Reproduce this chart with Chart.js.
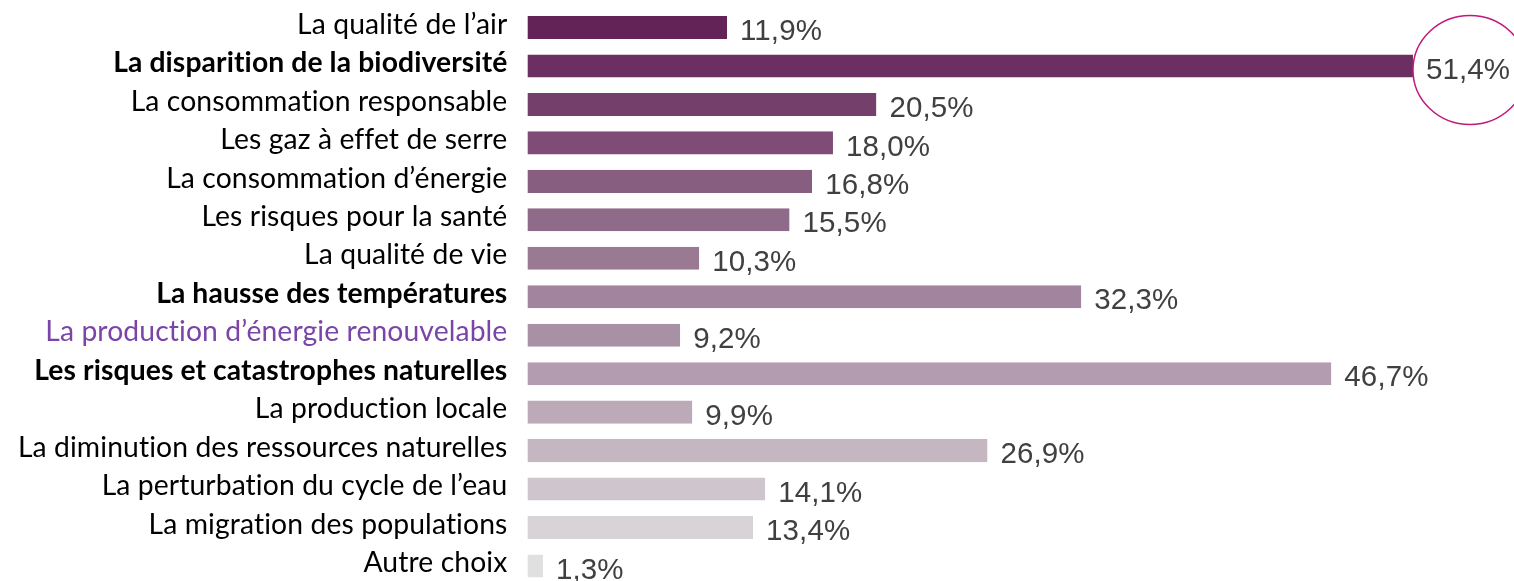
<!DOCTYPE html>
<html><head><meta charset="utf-8">
<script src="https://cdn.jsdelivr.net/npm/chart.js@4"></script>
<style>html,body{margin:0;padding:0;overflow:hidden;background:#fff}#wrap{position:relative;width:1514px;height:600px}</style>
</head><body><div id="wrap"><canvas id="c"></canvas></div>
<script>
const categories=["La qualité de l’air","La disparition de la biodiversité","La consommation responsable","Les gaz à effet de serre","La consommation d’énergie","Les risques pour la santé","La qualité de vie","La hausse des températures","La production d’énergie renouvelable","Les risques et catastrophes naturelles","La production locale","La diminution des ressources naturelles","La perturbation du cycle de l’eau","La migration des populations","Autre choix"];
const values=[11.9,51.4,20.5,18.0,16.8,15.5,10.3,32.3,9.2,46.7,9.9,26.9,14.1,13.4,1.3];
const valueLabels=["11,9%","51,4%","20,5%","18,0%","16,8%","15,5%","10,3%","32,3%","9,2%","46,7%","9,9%","26,9%","14,1%","13,4%","1,3%"];
const barColors=["#632357","#6b2f61","#743f6b","#7f4c77","#875d80","#8f6a89","#9a7a93","#a3849e","#a891a5","#b39caf","#bdaab8","#c4b7c1","#cec6cc","#d7d3d6","#e0e0e0"];
const boldIdx=[1,7,9];
const highlightIdx=8;
const circledIdx=1;

const noLigaturePlugin={
  id:'noLigatures',
  beforeDraw(chart){ try{chart.ctx.letterSpacing='0.1px';}catch(e){} }
};

const valueLabelPlugin={
  id:'valueLabels',
  afterDatasetsDraw(chart){
    const ctx=chart.ctx;const meta=chart.getDatasetMeta(0);
    ctx.save();
    ctx.font='29.5px "Liberation Sans", Arial, sans-serif';
    ctx.fillStyle='#404040';ctx.textAlign='left';ctx.textBaseline='middle';
    meta.data.forEach((bar,i)=>{
      ctx.fillText(valueLabels[i],bar.x+13,bar.y+4.5);
      if(i===circledIdx){
        ctx.beginPath();
        ctx.ellipse(bar.x+57,bar.y+4,57,54.5,0,0,Math.PI*2);
        ctx.strokeStyle='#c2187b';ctx.lineWidth=1.5;ctx.stroke();
      }
    });
    ctx.restore();
  }
};

new Chart(document.getElementById('c'),{
  type:'bar',
  data:{labels:categories,datasets:[{data:values,backgroundColor:barColors,
    borderColor:'#ffffff',borderWidth:{left:7.3,right:0,top:0,bottom:0},borderSkipped:false,
    categoryPercentage:1,barPercentage:0.6}]},
  options:{
    indexAxis:'y',responsive:true,maintainAspectRatio:false,animation:false,
    layout:{padding:{top:8.3,bottom:14.8,left:0,right:38.5}},
    plugins:{legend:{display:false},tooltip:{enabled:false}},
    scales:{
      x:{display:false,min:0,max:55},
      y:{grid:{display:false,drawTicks:false},border:{display:false},
        afterFit(s){s.width=520.4;s.paddingTop=0;s.paddingBottom=0;},
        ticks:{padding:13,autoSkip:false,labelOffset:-3,
          font:(c)=>({family:'Lato',size:28.3,weight:boldIdx.includes(c.index)?'bold':'normal'}),
          color:(c)=>c.index===highlightIdx?'#7a45a6':'#000000'}}
    }
  },
  plugins:[noLigaturePlugin,valueLabelPlugin]
});
</script>
</body></html>
